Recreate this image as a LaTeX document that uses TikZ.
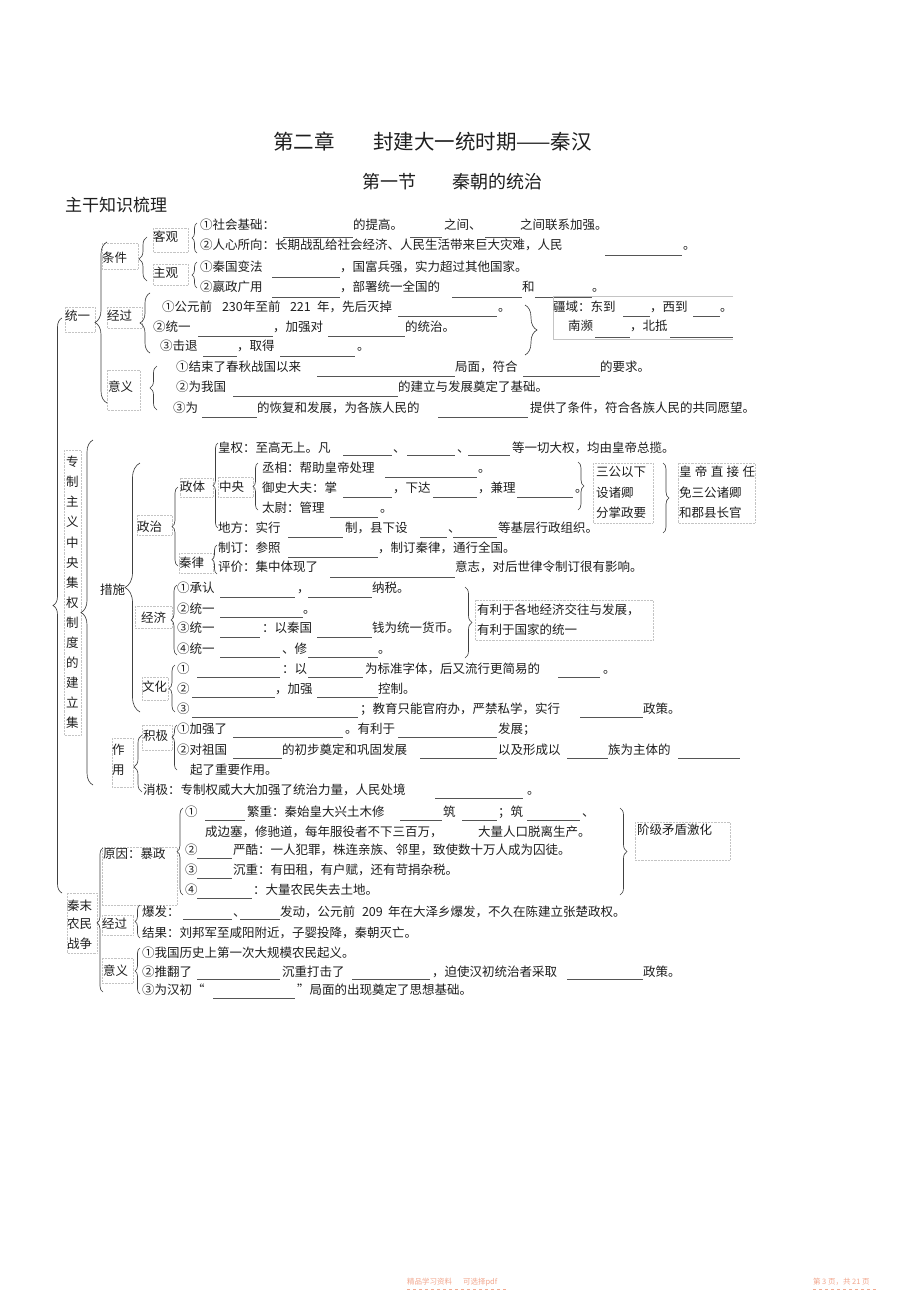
\documentclass[tikz,border=0pt]{standalone}
\usepackage{fontspec}
\newfontfamily\cjk{Noto Sans CJK SC}
\usetikzlibrary{decorations.pathreplacing}
\definecolor{ink}{HTML}{1E1E1E}
\definecolor{ruleg}{HTML}{555555}
\definecolor{boxg}{HTML}{C4C4C4}
\definecolor{foot}{HTML}{F2A78E}
\newcounter{tn}
\newcommand\T[3]{\stepcounter{tn}\node[txt,name=t\arabic{tn}] at (#1,#2+4.75) {#3};}
\newcommand\B[3]{\draw[blank] (#1,#3) -- (#2,#3);}
\newcommand\LB[5][0.5]{\draw[brc,decoration={brace,amplitude=#3pt,aspect=#1}] (#2,#5) -- (#2,#4);}
\newcommand\RB[5][0.5]{\draw[brc,decoration={brace,amplitude=#3pt,aspect=#1}] (#2,#4) -- (#2,#5);}
\newcommand\BX[4]{\draw[lbox] (#1,#2) rectangle (#3,#4);}
\tikzset{
  txt/.style={anchor=base west,inner sep=0pt,outer sep=0pt,text=ink,font=\cjk\fontsize{12.5}{15}\selectfont},
  blank/.style={draw=ruleg,line width=0.8pt},
  brc/.style={decorate,draw=black!75,line width=0.65pt},
  lbox/.style={draw=boxg,line width=0.45pt,densely dotted},
}
\begin{document}
\begin{tikzpicture}[x=1pt,y=-1pt]
\fill[white] (0,0) rectangle (920,1303);
\useasboundingbox (0,0) rectangle (920,1303);

% titles
\node[txt,font=\cjk\fontsize{20.5}{24}\selectfont,name=ti1] at (273,142+7.8) {第二章};
\node[txt,font=\cjk\fontsize{20.5}{24}\selectfont,name=ti2] at (373,142+7.8) {封建大一统时期——秦汉};
\node[txt,font=\cjk\fontsize{18}{22}\selectfont,name=ti3] at (362,182+6.8) {第一节};
\node[txt,font=\cjk\fontsize{18}{22}\selectfont,name=ti4] at (452,182+6.8) {秦朝的统治};
\node[txt,font=\cjk\fontsize{17}{20}\selectfont,name=ti5] at (65,205+6.5) {主干知识梳理};

% ===== 统一 =====
\BX{153}{228}{188}{252} \T{153}{237}{客观}
\BX{102}{243}{138}{269} \T{102}{258}{条件}
\BX{153}{264}{188}{285} \T{153}{273}{主观}
\BX{107}{307}{142}{328} \T{107}{316}{经过}
\BX{65}{307}{95}{332}   \T{65}{316}{统一}
\BX{107}{370}{140}{410} \T{108}{387}{意义}

\LB{197}{5}{223}{253}
\LB{147}{8}{237}{281}
\LB{197}{5}{262}{288}
\LB{150}{10}{293}{353}
\LB{107}{12}{242}{403}
\LB{157}{7}{366}{410}

\T{200}{225}{①社会基础：} \B{283}{353}{237} \T{353}{225}{的提高。} \B{410}{442}{237} \T{444}{225}{之间、} \B{485}{520}{237} \T{520}{225}{之间联系加强。}
\T{200}{245}{②人心所向：长期战乱给社会经济、人民生活带来巨大灾难，人民} \B{605}{682}{255} \T{683}{245}{。}
\T{200}{267}{①秦国变法} \B{272}{340}{277} \T{340}{267}{，国富兵强，实力超过其他国家。}
\T{200}{287}{②嬴政广用} \B{272}{340}{297} \T{340}{287}{，部署统一全国的} \B{452}{522}{297} \T{522}{287}{和} \B{535}{592}{297} \T{592}{287}{。}
\T{162}{307}{①公元前} \T{222}{307}{230} \T{243}{307}{年至前} \T{290}{307}{221} \T{317}{307}{年，先后灭掉} \B{398}{497}{316} \T{498}{307}{。}
\T{153}{327}{②统一} \B{198}{273}{336} \T{273}{327}{，加强对} \B{328}{405}{336} \T{405}{327}{的统治。}
\T{160}{346}{③击退} \B{203}{237}{356} \T{237}{346}{，取得} \B{280}{355}{356} \T{357}{346}{。}

\RB{525}{12}{305}{355}
\draw[draw=boxg,line width=0.5pt] (733,296) -- (553,296) -- (553,339) -- (733,339);
\T{553}{307}{疆域：东到} \B{623}{650}{316} \T{650}{307}{，西到} \B{693}{720}{316} \T{720}{307}{。}
\T{568}{326}{南濒} \B{595}{630}{337} \T{630}{326}{，北抵} \B{670}{733}{337}

\T{176}{367}{①结束了春秋战国以来} \B{317}{455}{376} \T{455}{367}{局面，符合} \B{523}{600}{376} \T{600}{367}{的要求。}
\T{176}{387}{②为我国} \B{233}{398}{396} \T{398}{387}{的建立与发展奠定了基础。}
\T{173}{408}{③为} \B{202}{257}{417} \T{257}{408}{的恢复和发展，为各族人民的} \B{438}{528}{417} \T{530}{408}{提供了条件，符合各族人民的共同愿望。}

% outer brace
\LB{62}{9}{318}{893}

% ===== 专制主义中央集权制度的建立 =====
\BX{64}{450}{81}{735}
\foreach \c [count=\i from 0] in {专,制,主,义,中,央,集,权,制,度,的,建,立,集}
  {\node[txt,name=v\i] at (66,462+20.08*\i+4.75) {\c};}
\LB{93}{12}{440}{785}
\T{100}{590}{措施}
\LB{140}{15}{463}{712}

\BX{137}{515}{172}{535} \T{137}{527}{政治}
\LB{178}{6}{487}{566}
\BX{180}{478}{213}{497} \T{180}{487}{政体}
\LB{218}{5}{443}{528}
\BX{218}{477}{253}{497} \T{219}{487}{中央}
\LB{258}{5}{463}{510}
\BX{179}{553}{213}{573} \T{179}{563}{秦律}
\LB{217}{5}{545}{574}

\T{218}{448}{皇权：至高无上。凡} \B{343}{392}{455} \T{393}{448}{、} \B{407}{455}{455} \T{457}{448}{、} \B{468}{510}{455} \T{512}{448}{等一切大权，均由皇帝总揽。}
\T{262}{468}{丞相：帮助皇帝处理} \B{385}{477}{477} \T{478}{468}{。}
\T{262}{488}{御史大夫：掌} \B{343}{392}{497} \T{393}{488}{，下达} \B{433}{477}{497} \T{478}{488}{，兼理} \B{517}{573}{497} \T{575}{488}{。}
\T{262}{508}{太尉：管理} \B{330}{378}{517} \T{380}{508}{。}
\T{218}{528}{地方：实行} \B{288}{343}{537} \T{345}{528}{制，县下设} \B{420}{447}{537} \T{448}{528}{、} \B{453}{497}{537} \T{498}{528}{等基层行政组织。}
\T{218}{548}{制订：参照} \B{288}{378}{557} \T{378}{548}{，制订秦律，通行全国。}
\T{218}{567}{评价：集中体现了} \B{330}{455}{577} \T{455}{567}{意志，对后世律令制订很有影响。}

\RB{578}{6}{462}{510}
\BX{593}{463}{653}{523}
\T{596}{472}{三公以下} \T{596}{493}{设诸卿} \T{596}{513}{分掌政要}
\RB{663}{6}{463}{533}
\BX{678}{463}{755}{523}
\T{679}{472}{皇\hspace{3.4pt}帝\hspace{3.4pt}直\hspace{3.4pt}接\hspace{3.4pt}任} \T{679}{493}{免三公诸卿} \T{679}{513}{和郡县长官}

% economy
\BX{135}{606}{172}{628} \T{141}{618}{经济}
\LB{177}{6}{585}{655}
\T{177}{588}{①承认} \B{220}{295}{597} \T{297}{588}{，} \B{308}{372}{597} \T{372}{588}{纳税。}
\T{177}{609}{②统一} \B{220}{303}{617} \T{303}{609}{。}
\T{177}{628}{③统一} \B{220}{260}{637} \T{262}{628}{：以秦国} \B{317}{372}{637} \T{372}{628}{钱为统一货币。}
\T{177}{649}{④统一} \B{220}{280}{657} \T{282}{649}{、修} \B{308}{378}{657} \T{378}{649}{。}
\RB{465}{7}{587}{658}
\BX{475}{600}{653}{640}
\T{477}{610}{有利于各地经济交往与发展，} \T{477}{630}{有利于国家的统一}

% culture
\BX{142}{677}{168}{700} \T{142}{687}{文化}
\LB{175}{6}{665}{712}
\T{177}{669}{①} \B{197}{280}{677} \T{282}{669}{：以} \B{308}{363}{677} \T{365}{669}{为标准字体，后又流行更简易的} \B{558}{600}{677} \T{603}{669}{。}
\T{177}{689}{②} \B{192}{275}{697} \T{275}{689}{，加强} \B{317}{378}{697} \T{378}{689}{控制。}
\T{177}{709}{③} \B{192}{358}{717} \T{360}{709}{；教育只能官府办，严禁私学，实行} \B{580}{643}{717} \T{643}{709}{政策。}

% 作用
\BX{142}{725}{172}{750} \T{143}{736}{积极}
\LB[0.73]{177}{5}{725}{770}
\BX{112}{738}{133}{787} \T{112}{750}{作} \T{112}{770}{用}
\LB[0.44]{142}{8}{735}{792}
\T{177}{729}{①加强了} \B{233}{343}{737} \T{345}{729}{。有利于} \B{398}{497}{737} \T{498}{729}{发展；}
\T{177}{750}{②对祖国} \B{233}{282}{758} \T{282}{750}{的初步奠定和巩固发展} \B{420}{497}{758} \T{498}{750}{以及形成以} \B{567}{608}{758} \T{608}{750}{族为主体的} \B{678}{740}{758}
\T{190}{770}{起了重要作用。}
\T{143}{790}{消极：专制权威大大加强了统治力量，人民处境} \B{435}{523}{798} \T{527}{790}{。}

% ===== 秦末农民战争 =====
\BX{102}{847}{177}{905} \T{103}{854}{原因：暴政}
\LB{183}{6}{808}{895}
\T{185}{812}{①} \B{205}{245}{820} \T{247}{812}{繁重：秦始皇大兴土木修} \B{400}{442}{820} \T{443}{812}{筑} \B{462}{497}{820} \T{498}{812}{；筑} \B{527}{580}{820} \T{582}{812}{、}
\T{205}{832}{成边塞，修驰道，每年服役者不下三百万，} \T{478}{832}{大量人口脱离生产。}
\T{185}{850}{②} \B{197}{232}{858} \T{233}{850}{严酷：一人犯罪，株连亲族、邻里，致使数十万人成为囚徒。}
\T{185}{870}{③} \B{197}{232}{878} \T{233}{870}{沉重：有田租，有户赋，还有苛捐杂税。}
\T{185}{890}{④} \B{197}{252}{898} \T{253}{890}{：大量农民失去土地。}
\RB{620}{7}{808}{895}
\BX{635}{822}{730}{860} \T{637}{830}{阶级矛盾激化}

\BX{67}{893}{97}{953} \T{67}{906}{秦末} \T{67}{924}{农民} \T{67}{944}{战争}
\LB[0.48]{103}{6}{848}{992}

\BX{102}{915}{133}{935} \T{102}{924}{经过}
\LB{140}{5}{905}{938}
\T{142}{912}{爆发：} \B{183}{232}{919} \T{233}{912}{、} \B{240}{280}{919} \T{280}{912}{发动，公元前} \T{362}{912}{209} \T{388}{912}{年在大泽乡爆发，不久在陈建立张楚政权。}
\T{142}{933}{结果：刘邦军至咸阳附近，子婴投降，秦朝灭亡。}

\BX{102}{958}{133}{983} \T{103}{971}{意义}
\LB{140}{5}{948}{994}
\T{142}{953}{①我国历史上第一次大规模农民起义。}
\T{142}{972}{②推翻了} \B{197}{280}{979} \T{282}{972}{沉重打击了} \B{352}{430}{979} \T{432}{972}{，迫使汉初统治者采取} \B{567}{643}{979} \T{643}{972}{政策。}
\T{142}{990}{③为汉初“} \B{213}{295}{998} \T{297}{990}{”局面的出现奠定了思想基础。}

% footer
\node[txt,text=foot,font=\cjk\fontsize{7.5}{9}\selectfont,name=f1] at (407,1284) {精品学习资料};
\node[txt,text=foot,font=\cjk\fontsize{7.5}{9}\selectfont,name=f2] at (463,1284) {可选择pdf};
\node[txt,text=foot,font=\cjk\fontsize{7.5}{9}\selectfont,name=f3] at (813,1284) {第 3 页，共 21 页};
\draw[foot,dashed,line width=0.6pt] (407,1289) -- (507,1289);
\draw[foot,dashed,line width=0.6pt] (813,1289) -- (877,1289);
\end{tikzpicture}
\end{document}
